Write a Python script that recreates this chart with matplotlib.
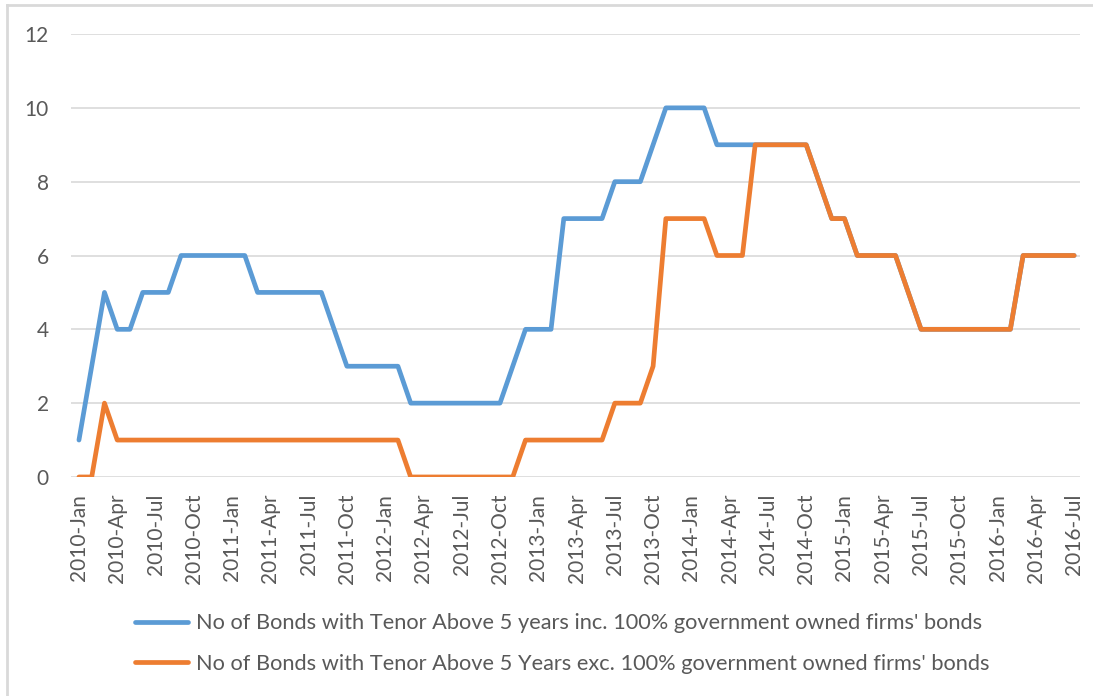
import matplotlib.pyplot as plt
from matplotlib.lines import Line2D

years = [2010, 2011, 2012, 2013, 2014, 2015, 2016]
month_names = ['Jan', 'Feb', 'Mar', 'Apr', 'May', 'Jun',
               'Jul', 'Aug', 'Sep', 'Oct', 'Nov', 'Dec']
months = [f'{y}-{m}' for y in years for m in month_names][:79]  # 2010-Jan .. 2016-Jul

inc_gov = [1, 3, 5, 4, 4, 5, 5, 5,
           6, 6, 6, 6, 6, 6,
           5, 5, 5, 5, 5, 5,
           4, 3, 3, 3, 3, 3,
           2, 2, 2, 2, 2, 2, 2, 2,
           3, 4, 4, 4,
           7, 7, 7, 7,
           8, 8, 8, 9,
           10, 10, 10, 10,
           9, 9, 9, 9,
           9, 9, 9, 9, 8, 7, 7, 6, 6, 6, 6, 5,
           4, 4, 4, 4, 4, 4, 4, 4,
           6, 6, 6, 6, 6]

exc_gov = [0, 0, 2,
           1, 1, 1, 1, 1, 1, 1, 1, 1, 1, 1, 1, 1, 1, 1, 1, 1, 1, 1, 1, 1, 1, 1,
           0, 0, 0, 0, 0, 0, 0, 0, 0,
           1, 1, 1, 1, 1, 1, 1,
           2, 2, 2, 3,
           7, 7, 7, 7,
           6, 6, 6,
           9, 9, 9, 9, 9, 8, 7, 7, 6, 6, 6, 6, 5,
           4, 4, 4, 4, 4, 4, 4, 4,
           6, 6, 6, 6, 6]

labels = ["No of Bonds with Tenor Above 5 years inc. 100% government owned firms' bonds",
          "No of Bonds with Tenor Above 5 Years exc. 100% government owned firms' bonds"]

txt = '#595959'
plt.rcParams['font.family'] = ['Lato', 'DejaVu Sans']

fig = plt.figure(figsize=(10.93, 6.96), dpi=100)
ax = fig.add_axes([0.065, 0.3147, 0.923, 0.6364])

x = list(range(len(months)))
ax.plot(x, inc_gov, color='#5B9BD5', lw=3.4, solid_capstyle='round', solid_joinstyle='round', label=labels[0])
ax.plot(x, exc_gov, color='#ED7D31', lw=3.4, solid_capstyle='round', solid_joinstyle='round', label=labels[1])

ax.set_xlim(-0.62, 78.45)
ax.set_ylim(0, 12)
ax.set_yticks(range(0, 13, 2))
ax.set_xticks(x[::3])
ax.set_xticklabels(months[::3], rotation=90)
ax.tick_params(axis='both', length=0, labelsize=15, colors=txt)
ax.tick_params(axis='y', pad=16)
ax.tick_params(axis='x', pad=12)
ax.grid(axis='y', color='#D9D9D9', lw=1.2)
ax.set_axisbelow(True)
for s in ax.spines.values():
    s.set_visible(False)

fig.legend(loc='upper center', bbox_to_anchor=(0.514, 0.147), ncol=1, frameon=False,
           fontsize=15.7, labelcolor=txt, handlelength=2.45, handletextpad=0.35,
           labelspacing=0.95)

# chart border (top and left visible)
fig.add_artist(Line2D([7 / 1093, 1], [1 - 5 / 696, 1 - 5 / 696], color='#D9D9D9', lw=2))
fig.add_artist(Line2D([7 / 1093, 7 / 1093], [0, 1 - 5 / 696], color='#D9D9D9', lw=2))

fig.savefig('out.png', dpi=100)
